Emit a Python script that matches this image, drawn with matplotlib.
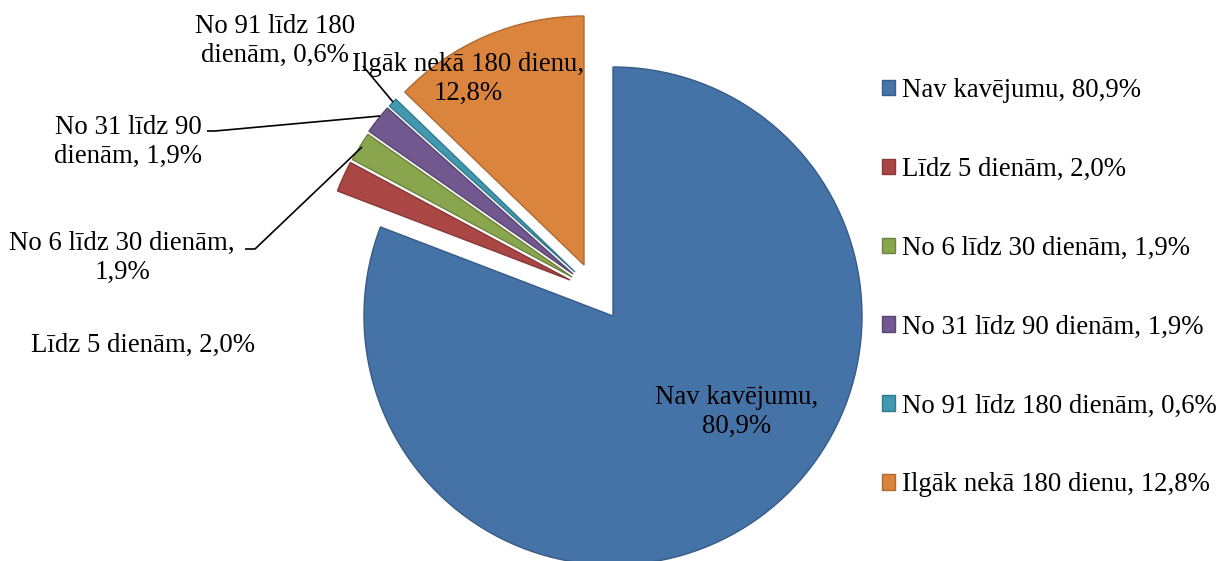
import matplotlib
matplotlib.use("Agg")
import matplotlib.pyplot as plt
import matplotlib.colors as mcolors

plt.rcParams["font.family"] = ["Liberation Serif", "DejaVu Serif"]

# overdue-days breakdown, share of total (%)
categories = ["Nav kavējumu", "Līdz 5 dienām", "No 6 līdz 30 dienām",
              "No 31 līdz 90 dienām", "No 91 līdz 180 dienām", "Ilgāk nekā 180 dienu"]
shares = [80.9, 2.0, 1.9, 1.9, 0.6, 12.8]
colors = ["#4572A7", "#AA4643", "#89A54E", "#71588F", "#4198AF", "#DB843D"]

# how each slice label is wrapped on the chart
label_names = ["Nav kavējumu", "Līdz 5 dienām", "No 6 līdz 30 dienām",
               "No 31 līdz 90\ndienām", "No 91 līdz 180\ndienām", "Ilgāk nekā 180 dienu"]
label_seps = ["\n", " ", "\n", " ", " ", "\n"]


def pct(v):
    return f"{v:.1f}".replace(".", ",") + "%"


W, H = 1220, 561
fig = plt.figure(figsize=(W / 100, H / 100), dpi=100)
ax = fig.add_axes([0, 0, 1, 1])

R = 249
CX, CY = 613, H - 316

wedges, _ = ax.pie(shares, colors=colors, startangle=90, counterclock=False,
                   radius=R, center=(CX, CY), wedgeprops=dict(linewidth=1.0))

# pulled-out slices: offsets in px (x right, y up) from the pie centre
pull = [(0, 0), (-43, 36), (-41, 39), (-40, 42), (-38, 44), (-29, 51)]
for w, c, (dx, dy) in zip(wedges, colors, pull):
    w.set_center((CX + dx, CY + dy))
    w.set_edgecolor(tuple(x * 0.8 for x in mcolors.to_rgb(c)))

ax.set_xlim(0, W)
ax.set_ylim(0, H)
ax.set_aspect("equal")
ax.axis("off")

# slice labels (pixel positions measured from the top)
label_pos = [(737, 412), (143, 345), (122, 258), (128, 142), (275, 41), (468, 79)]
FS = 19.3
for name, sep, v, (x, y) in zip(label_names, label_seps, shares, label_pos):
    ax.text(x, H - y, f"{name},{sep}{pct(v)}", fontsize=FS, ha="center", va="center",
            linespacing=1.2, color="black")

# leader lines for the thin slices
leaders = [
    [(363, 66), (393, 102)],
    [(207, 131), (215, 131), (380, 116)],
    [(245, 249), (255, 249), (362, 147)],
]
for pts in leaders:
    xs = [p[0] for p in pts]
    ys = [H - p[1] for p in pts]
    ax.plot(xs, ys, color="black", linewidth=1.2, solid_capstyle="butt")

leg = ax.legend(wedges, [f"{c}, {pct(v)}" for c, v in zip(categories, shares)],
                loc="upper left", bbox_to_anchor=(882 / W, 1 - 78 / H),
                frameon=False, fontsize=FS, handlelength=0.5, handleheight=0.5,
                handletextpad=0.25, labelspacing=2.01, borderaxespad=0, borderpad=0)

fig.savefig("out.png", dpi=100, facecolor="white")
